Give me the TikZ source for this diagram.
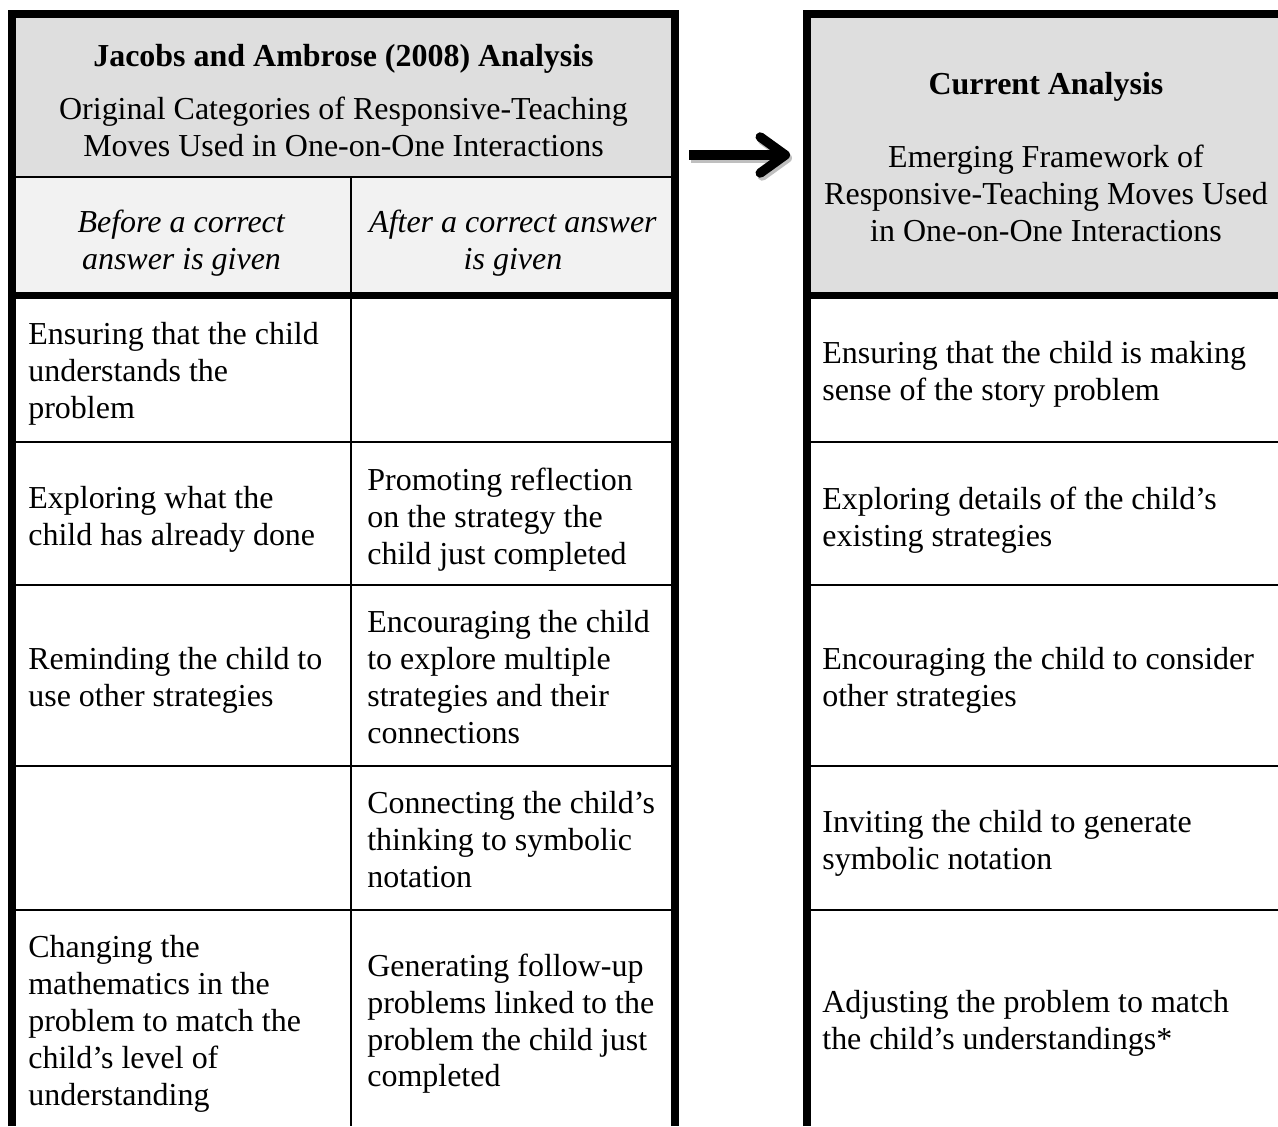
\documentclass[tikz,border=0pt]{standalone}
\usepackage{fontspec}
\setmainfont{Liberation Serif}
\usetikzlibrary{arrows.meta}

\definecolor{headgray}{HTML}{DEDEDE}
\definecolor{subgray}{HTML}{F2F2F2}
\newcommand{\cellstrut}{\rule[-0.15cm]{0pt}{0.74cm}}

\begin{document}
\begin{tikzpicture}[x=0.02cm, y=-0.02cm,
    font=\fontsize{18.2}{21.05}\selectfont,
    heavy/.style={line width=0.15cm},
    light/.style={line width=0.04cm},
    cell/.style={anchor=west, align=left, inner sep=0pt,
        execute at begin node=\cellstrut, execute at end node=\cellstrut},
    head/.style={align=center, inner sep=0pt,
        execute at begin node=\cellstrut, execute at end node=\cellstrut},
    bigarrow/.style={line width=0.19cm, -{Straight Barb[length=0.5cm, width=0.72cm, round]}}]
    \useasboundingbox (0,0) rectangle (1278,1126);

    % shaded heads
    \fill[headgray] (16,17) rectangle (671,177);
    \fill[subgray] (16,177) rectangle (671,292);
    \fill[headgray] (811,17) rectangle (1278,292);

    % rules
    \draw[light] (12,177) -- (675,177);
    \draw[light] (351,177) -- (351,1126);
    \foreach \y in {441.5, 585, 765.5, 909.5} {
        \draw[light] (12,\y) -- (675,\y);
        \draw[light] (807,\y) -- (1278,\y);
    }
    \draw[heavy] (12,1126) -- (12,14) -- (675,14) -- (675,1126);
    \draw[heavy] (12,295.5) -- (675,295.5);
    \draw[heavy] (807,1126) -- (807,14) -- (1278,14);
    \draw[heavy] (807,295.5) -- (1278,295.5);

    % left table
    \node[head] (jaTitle) at (343.5,55) {\textbf{Jacobs and Ambrose (2008) Analysis}};
    \node[head] (jaSub) at (343.5,130.5) {Original Categories of Responsive-Teaching\\Moves Used in One-on-One Interactions};
    \node[head] (beforeHd) at (181.5,243) {\textit{Before a correct}\\\textit{answer is given}};
    \node[head] (afterHd) at (513,243) {\textit{After a correct answer}\\\textit{is given}};

    \node[cell] (r1a) at (28,374) {Ensuring that the child\\understands the\\problem};
    \node[cell] (r2a) at (28,520) {Exploring what the\\child has already done};
    \node[cell] (r2b) at (367,520) {Promoting reflection\\on the strategy the\\child just completed};
    \node[cell] (r3a) at (28,681) {Reminding the child to\\use other strategies};
    \node[cell] (r3b) at (367,681) {Encouraging the child\\to explore multiple\\strategies and their\\connections};
    \node[cell] (r4b) at (367,843.5) {Connecting the child’s\\thinking to symbolic\\notation};
    \node[cell] (r5a) at (28,1024) {Changing the\\mathematics in the\\problem to match the\\child’s level of\\understanding};
    \node[cell] (r5b) at (367,1024) {Generating follow-up\\problems linked to the\\problem the child just\\completed};

    % right table
    \node[head] (caTitle) at (1046,83) {\textbf{Current Analysis}};
    \node[head] (caSub) at (1046,197) {Emerging Framework of\\Responsive-Teaching Moves Used\\in One-on-One Interactions};

    \node[cell] (r1c) at (822,375) {Ensuring that the child is making\\sense of the story problem};
    \node[cell] (r2c) at (822,520) {Exploring details of the child’s\\existing strategies};
    \node[cell] (r3c) at (822,681) {Encouraging the child to consider\\other strategies};
    \node[cell] (r4c) at (822,843.5) {Inviting the child to generate\\symbolic notation};
    \node[cell] (r5c) at (822,1024) {Adjusting the problem to match\\the child’s understandings*};

    % arrow between the two
    \coordinate (arrTail) at (689,155);
    \coordinate (arrHead) at (790,155);
    \draw[bigarrow, black!25, transform canvas={shift={(0.04cm,-0.06cm)}}] (arrTail) -- (arrHead);
    \draw[bigarrow] (arrTail) -- (arrHead);
\end{tikzpicture}
\end{document}
